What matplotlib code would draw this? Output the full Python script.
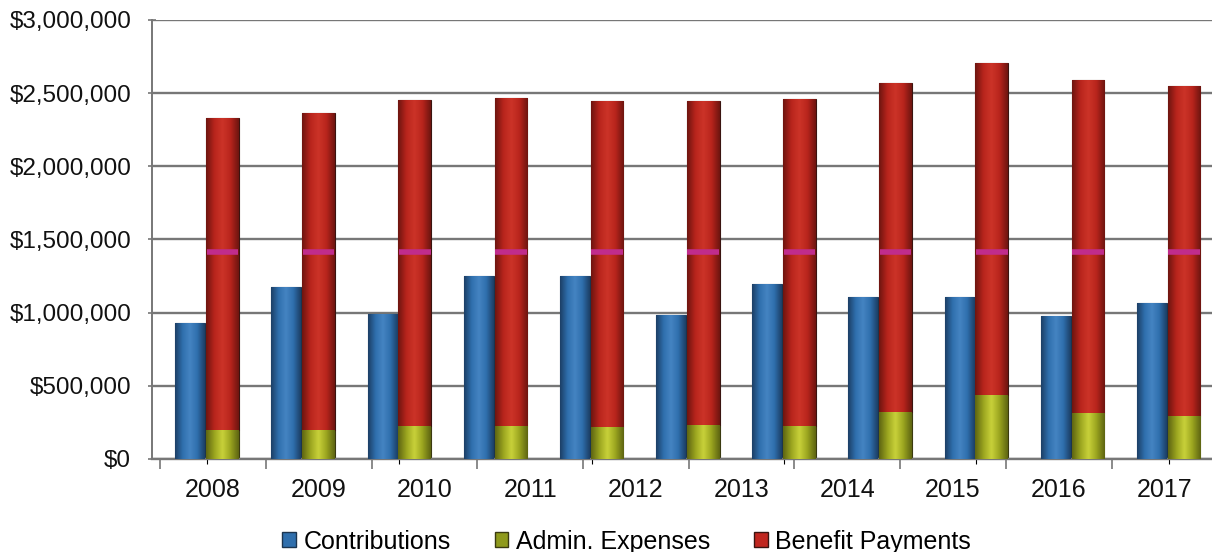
import numpy as np
import matplotlib
matplotlib.use('Agg')
import matplotlib.pyplot as plt
from matplotlib.colors import LinearSegmentedColormap
from matplotlib.patches import Patch
from matplotlib.ticker import FuncFormatter, FixedLocator

plt.rcParams['font.family'] = ['Liberation Sans', 'DejaVu Sans']

# values (11 bar pairs, 10 year labels on the axis)
years = ['2008', '2009', '2010', '2011', '2012', '2013', '2014', '2015', '2016', '2017']
contributions = [930000, 1173000, 989000, 1248000, 1252000, 986000, 1198000, 1108000, 1106000, 977000, 1068000]
admin_expenses = [200000, 200000, 225000, 224000, 220000, 230000, 225000, 320000, 440000, 316000, 294000]
benefit_payments = [2132000, 2162000, 2229000, 2242000, 2223000, 2219000, 2235000, 2249000, 2264000, 2271000, 2256000]
band_level = 1415000  # magenta streak visible across the red bars

blue = '#2f6fad'
green = '#8f9a1c'
red = '#c0261f'
grid_grey = '#777777'


def shade(ax, patches, dark, mid, light):
    # horizontal gradient clipped to each bar, to fake the 3D look
    cmap = LinearSegmentedColormap.from_list('s', [dark, mid, light, mid, dark])
    grad = np.linspace(0, 1, 64).reshape(1, -1)
    for p in patches:
        x0, y0 = p.get_x(), p.get_y()
        x1, y1 = x0 + p.get_width(), y0 + p.get_height()
        im = ax.imshow(grad, cmap=cmap, extent=[x0, x1, y0, y1], aspect='auto',
                       origin='lower', zorder=3, interpolation='bicubic')
        im.set_clip_path(p)


fig = plt.figure(figsize=(12.12, 5.52), dpi=100)
ax = fig.add_axes([0.1254, 0.1685, 0.8746, 0.7953])

x = np.arange(len(contributions))
b1 = ax.bar(x - 0.33, contributions, width=0.31, align='edge', color=blue,
            edgecolor='#1b3550', linewidth=0.8, zorder=2)
b2 = ax.bar(x - 0.01, admin_expenses, width=0.34, align='edge', color=green,
            edgecolor='#3a3a10', linewidth=0.8, zorder=2)
b3 = ax.bar(x - 0.01, benefit_payments, width=0.34, align='edge', bottom=admin_expenses,
            color=red, edgecolor='#3a1410', linewidth=0.8, zorder=2)

shade(ax, b1, '#1c3f66', '#2f6fad', '#4584c2')
shade(ax, b2, '#5e6512', '#9aa41f', '#c9d23a')
shade(ax, b3, '#6e1510', '#b8241c', '#cc3428')

ax.hlines([band_level] * len(x), x - 0.005, x + 0.325, color='#c02c8c', lw=4, zorder=4)

ax.set_xlim(-0.572, 10.45)
ax.set_ylim(0, 3000000)
ax.set_yticks(np.arange(0, 3000001, 500000))
ax.yaxis.set_major_formatter(FuncFormatter(lambda v, p: '${:,.0f}'.format(v)))
ax.tick_params(axis='y', labelsize=17.5, length=6, color=grid_grey, width=1.2,
               pad=12, labelcolor='#111111', direction='inout')
ax.tick_params(axis='x', bottom=False, labelbottom=False)
ax.grid(axis='y', color=grid_grey, linewidth=1.7, zorder=1)
ax.set_axisbelow(True)
for s in ['top', 'right']:
    ax.spines[s].set_visible(False)
ax.spines['left'].set_color(grid_grey)
ax.spines['left'].set_linewidth(1.4)
ax.spines['bottom'].set_color(grid_grey)
ax.spines['bottom'].set_linewidth(1.7)

# year labels sit on their own, evenly spaced category scale
ax2 = ax.twiny()
ax2.set_xlim(-0.577, 9.45)
ax2.xaxis.set_ticks_position('bottom')
ax2.xaxis.set_label_position('bottom')
ax2.xaxis.set_major_locator(FixedLocator(np.arange(len(years) + 1) - 0.5))
ax2.xaxis.set_minor_locator(FixedLocator(np.arange(len(years))))
ax2.set_xticklabels([], minor=False)
ax2.set_xticklabels(years, minor=True)
ax2.tick_params(axis='x', which='major', length=7, color=grid_grey, width=1.2)
ax2.tick_params(axis='x', which='minor', length=0, labelsize=18, pad=14, labelcolor='#111111')
for s in ax2.spines.values():
    s.set_visible(False)

handles = [Patch(facecolor=blue, edgecolor='#1b3550'),
           Patch(facecolor=green, edgecolor='#3a3a10'),
           Patch(facecolor=red, edgecolor='#3a1410')]
fig.legend(handles, ['Contributions', 'Admin. Expenses', 'Benefit Payments'],
           loc='center', bbox_to_anchor=(0.517, 0.019), ncol=3, frameon=False,
           fontsize=18, handlelength=0.55, handleheight=0.55, handletextpad=0.3,
           columnspacing=1.75, borderaxespad=0)

fig.savefig('out.png', dpi=100)
